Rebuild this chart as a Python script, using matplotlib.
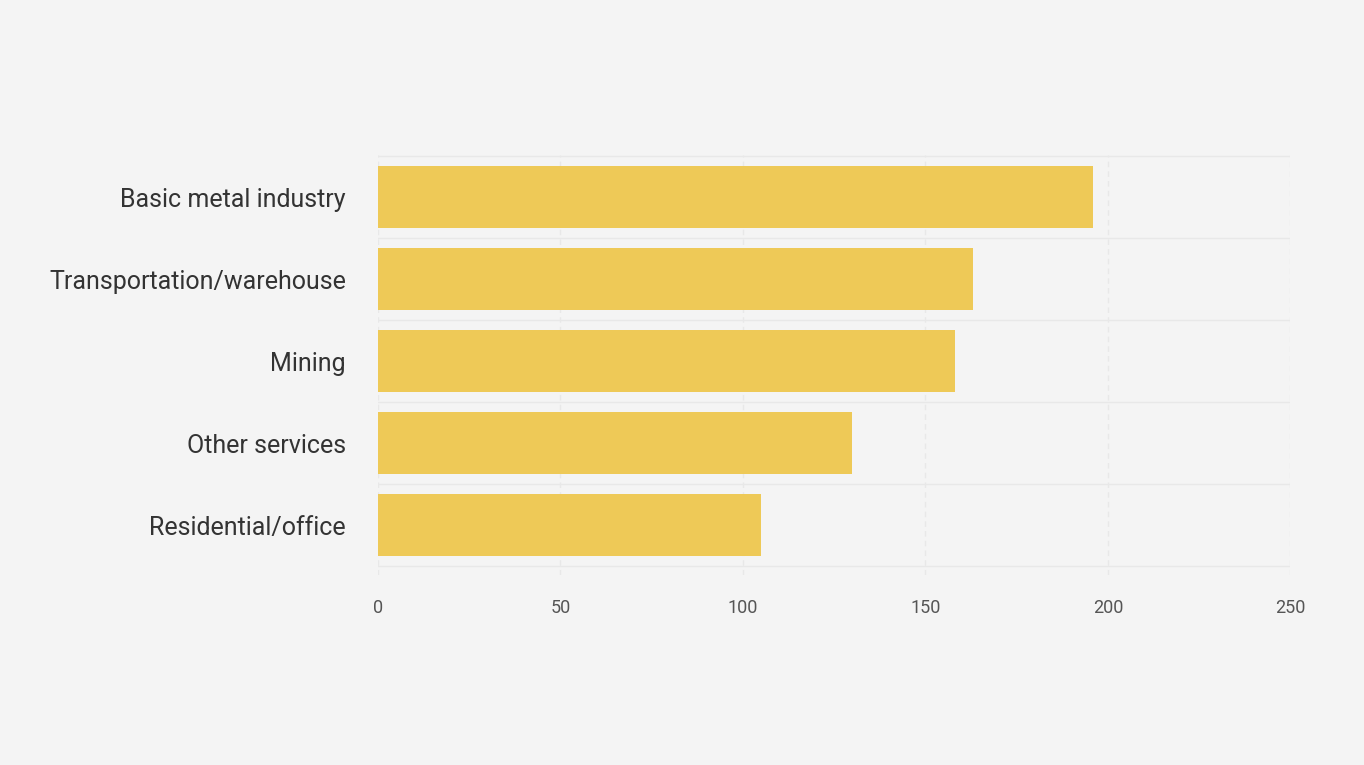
import matplotlib
matplotlib.use("Agg")
import matplotlib.pyplot as plt

categories = ["Basic metal industry", "Transportation/warehouse", "Mining",
              "Other services", "Residential/office"]
values = [196, 163, 158, 130, 105]
x_ticks = [0, 50, 100, 150, 200, 250]

plt.rcParams['font.family'] = ['Roboto', 'DejaVu Sans']

fig = plt.figure(figsize=(13.64, 7.65), dpi=100)
fig.patch.set_facecolor("#f4f4f4")
ax = fig.add_axes([0.277, 0.248, 0.669, 0.549])
ax.set_facecolor("#f4f4f4")

ypos = list(range(len(categories)))
ax.barh(ypos, values, height=0.76, color="#eec957", zorder=2)
ax.set_yticks(ypos)
ax.set_yticklabels(categories, fontsize=18, color="#333333")
ax.set_yticks([i - 0.5 for i in range(len(categories) + 1)], minor=True)
ax.set_ylim(4.61, -0.51)

ax.set_xlim(0, 250)
ax.set_xticks(x_ticks)
ax.set_xticklabels([str(t) for t in x_ticks], fontsize=13, color="#555555")
ax.grid(True, axis="x", color="#e8e8e8", linewidth=1, linestyle=(0, (4, 3)), zorder=0)
ax.grid(True, axis="y", which="minor", color="#e8e8e8", linewidth=1, zorder=0)
ax.tick_params(which="both", length=0)
ax.tick_params(axis="y", pad=23)
ax.tick_params(axis="x", pad=17)
for s in ax.spines.values():
    s.set_visible(False)

fig.savefig("out.png", dpi=100, facecolor=fig.get_facecolor())
